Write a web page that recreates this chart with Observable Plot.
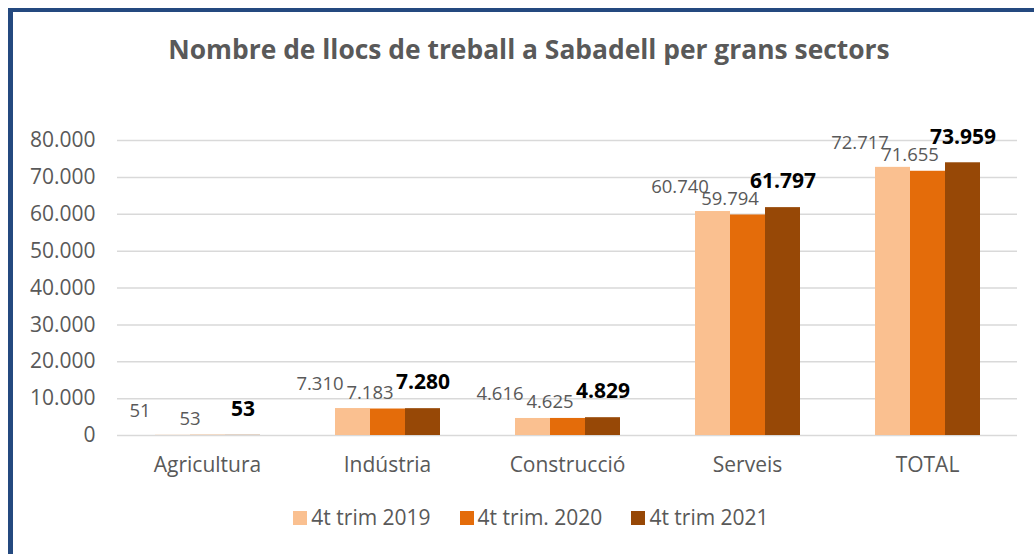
<!DOCTYPE html>
<html>
<head>
<meta charset="utf-8">
<script src="https://cdn.jsdelivr.net/npm/d3@7"></script>
<script src="https://cdn.jsdelivr.net/npm/@observablehq/plot@0.6"></script>
<style>
  html, body { margin: 0; padding: 0; background: #fff; }
  body { width: 1034px; height: 554px; position: relative; overflow: hidden; font-family: "Open Sans", sans-serif; }
  #frame { position: absolute; left: 8px; top: 8px; width: 1040px; height: 560px; border-left: 5px solid #24497F; border-top: 4px solid #24497F; box-sizing: border-box; }
  #title { position: absolute; left: 0; top: 36px; width: 1058px; text-align: center; font-weight: bold; font-size: 26.4px; line-height: 1; color: #595959; white-space: nowrap; }
  #chart { position: absolute; left: 0; top: 100px; }
  #legend { position: absolute; left: 0; top: 507px; width: 1062px; display: flex; justify-content: center; gap: 29px; font-size: 21px; line-height: 1; color: #595959; }
  .item { display: flex; align-items: flex-end; gap: 4px; }
  .sw { width: 14px; height: 14px; margin-bottom: 3px; }
</style>
</head>
<body>
<div id="frame"></div>
<div id="title">Nombre de llocs de treball a Sabadell per grans sectors</div>
<div id="chart"></div>
<div id="legend"></div>
<script>
const categories = ["Agricultura", "Indústria", "Construcció", "Serveis", "TOTAL"];
const series = ["4t trim 2019", "4t trim. 2020", "4t trim 2021"];
const values2019 = [51, 7310, 4616, 60740, 72717];
const values2020 = [53, 7183, 4625, 59794, 71655];
const values2021 = [53, 7280, 4829, 61797, 73959];
const yTicks = [0, 10000, 20000, 30000, 40000, 50000, 60000, 70000, 80000];
const colors = ["#FAC090", "#E46C0A", "#974806"];

const allValues = [values2019, values2020, values2021];
const data = categories.flatMap((c, i) => series.map((s, j) => ({cat: c, s, v: allValues[j][i]})));

const locale = d3.formatLocale({decimal: ",", thousands: ".", grouping: [3], currency: ["", "€"]});
const fmt = locale.format(",d");

const labelOpts = {fx: "cat", x: "s", y: "v", text: d => fmt(d.v)};

const chart = Plot.plot({
  width: 1034,
  height: 385,
  marginTop: 40,
  marginBottom: 50,
  marginLeft: 117,
  marginRight: 17,
  style: {fontFamily: "Open Sans", fontSize: "21px", color: "#595959", background: "transparent", overflow: "visible"},
  fx: {domain: categories, padding: 0, label: null, axis: null},
  x: {domain: series, paddingInner: 0, paddingOuter: 37.5 / 35, axis: null},
  y: {domain: [0, 80000], label: null},
  color: {domain: series, range: colors},
  marks: [
    Plot.gridY(yTicks, {stroke: "#d9d9d9", strokeOpacity: 1, strokeWidth: 1.5}),
    Plot.axisY(yTicks, {tickSize: 0, tickPadding: 22, tickFormat: fmt, fontSize: 21, fill: "#595959", label: null}),
    Plot.axisFx({anchor: "bottom", tickSize: 0, tickPadding: 22, fontSize: 21, fill: "#595959", label: null}),
    Plot.barY(data, {fx: "cat", x: "s", y: "v", fill: "s"}),
    Plot.text(data.filter(d => d.s === series[0]), {...labelOpts, dx: -33, dy: -24, fill: "#595959", fontSize: 18.5}),
    Plot.text(data.filter(d => d.s === series[1]), {...labelOpts, dx: -18, dy: -16, fill: "#595959", fontSize: 18.5}),
    Plot.text(data.filter(d => d.s === series[2]), {...labelOpts, dx: 0, dy: -26, fill: "#000", fontSize: 21, fontWeight: "bold"})
  ]
});
document.getElementById("chart").appendChild(chart);

const legend = document.getElementById("legend");
series.forEach((s, i) => {
  const item = document.createElement("div");
  item.className = "item";
  const sw = document.createElement("span");
  sw.className = "sw";
  sw.style.background = colors[i];
  const t = document.createElement("span");
  t.textContent = s;
  item.appendChild(sw);
  item.appendChild(t);
  legend.appendChild(item);
});
</script>
</body>
</html>
